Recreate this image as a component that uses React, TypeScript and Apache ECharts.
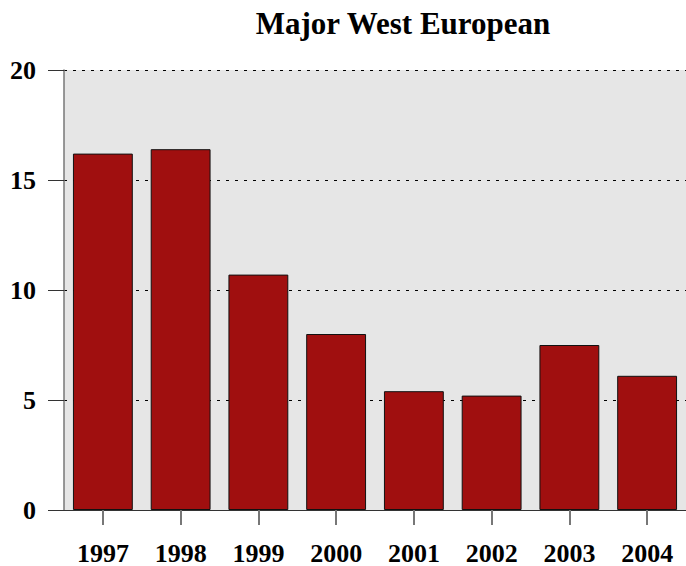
import React, { useEffect, useRef } from "react";
import * as echarts from "echarts";

const titleText = "Major West European";
const categories = ["1997", "1998", "1999", "2000", "2001", "2002", "2003", "2004"];
const values = [16.2, 16.4, 10.7, 8.0, 5.4, 5.2, 7.5, 6.1];
const yTicks = [0, 5, 10, 15, 20];

export default function App() {
  const ref = useRef<HTMLDivElement>(null);
  useEffect(() => {
    document.body.style.margin = "0";
    const chart = echarts.init(ref.current!, undefined, { renderer: "svg" });
    const font = "'Liberation Serif', 'Times New Roman', serif";
    chart.setOption({
      animation: false,
      backgroundColor: "#ffffff",
      title: {
        text: titleText,
        left: 398,
        top: 3,
        textAlign: "center",
        textStyle: { fontFamily: font, fontWeight: "bold", fontSize: 31, color: "#000" },
      },
      grid: {
        left: 64,
        right: -1,
        top: 70,
        bottom: 56,
        show: true,
        backgroundColor: "#e6e6e6",
        borderWidth: 0,
      },
      xAxis: {
        type: "category",
        data: categories,
        axisLine: { show: true, lineStyle: { color: "#333", width: 1 } },
        axisTick: { show: true, alignWithLabel: true, length: 15, lineStyle: { color: "#777", width: 2 } },
        axisLabel: {
          margin: 30,
          fontFamily: font,
          fontWeight: "bold",
          fontSize: 26,
          color: "#000",
        },
      },
      yAxis: {
        type: "value",
        min: yTicks[0],
        max: yTicks[yTicks.length - 1],
        interval: 5,
        axisLine: { show: true, lineStyle: { color: "#777", width: 1.5 } },
        axisTick: { show: true, length: 16, lineStyle: { color: "#333", width: 1 } },
        axisLabel: {
          margin: 28,
          fontFamily: font,
          fontWeight: "bold",
          fontSize: 26,
          color: "#000",
        },
        splitLine: { show: true, lineStyle: { color: "#000", type: [3, 6], width: 1 } },
      },
      series: [
        {
          type: "bar",
          data: values,
          barCategoryGap: "23%",
          itemStyle: { color: "#a00f0f", borderColor: "#111", borderWidth: 1 },
        },
      ],
    });
    return () => chart.dispose();
  }, []);
  return <div ref={ref} style={{ width: 686, height: 566 }} />;
}
